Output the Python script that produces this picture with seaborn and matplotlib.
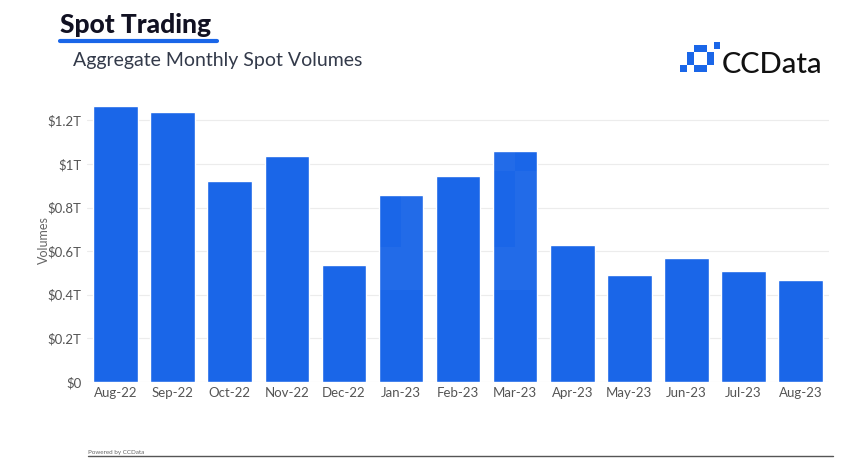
import numpy as np
import pandas as pd
import matplotlib
matplotlib.use("Agg")
import matplotlib.pyplot as plt
import seaborn as sns
from matplotlib.patches import Rectangle

# data (trillions of USD)
months = ["Aug-22", "Sep-22", "Oct-22", "Nov-22", "Dec-22", "Jan-23", "Feb-23",
          "Mar-23", "Apr-23", "May-23", "Jun-23", "Jul-23", "Aug-23"]
volumes = [1.264, 1.237, 0.921, 1.035, 0.536, 0.857, 0.944,
           1.058, 0.628, 0.490, 0.568, 0.508, 0.467]
tick_vals = [0, 0.2, 0.4, 0.6, 0.8, 1.0, 1.2]
tick_labels = ["$0", "$0.2T", "$0.4T", "$0.6T", "$0.8T", "$1T", "$1.2T"]

df = pd.DataFrame({"Month": months, "Volume": volumes})

sns.set_style("white")
plt.rcParams["font.family"] = ["Lato", "DejaVu Sans"]

BLUE = "#1a66e8"

fig = plt.figure(figsize=(8.63, 4.72), dpi=100)
ax = fig.add_axes([0.1008, 0.191, 0.86, 0.60])

sns.barplot(data=df, x="Month", y="Volume", color=BLUE, width=0.78,
            saturation=1, ax=ax, zorder=3)

ax.set_ylim(0, 1.3)
ax.set_xlim(-0.5, len(months) - 0.5)
ax.set_yticks(tick_vals)
ax.set_yticklabels(tick_labels)
ax.yaxis.grid(True, color="#ececec", linewidth=0.8, zorder=0)
ax.set_axisbelow(True)
for s in ax.spines.values():
    s.set_visible(False)
ax.tick_params(axis="both", length=0, labelsize=9.5, colors="#555555", pad=4)
ax.set_xlabel("")
ax.set_ylabel("Volumes", fontsize=9, color="#666666", labelpad=-2)

# faint watermark logo over the bars
for (x0, y0, w, h) in [(4.6, 0.42, 0.9, 0.2), (5.0, 0.62, 0.5, 0.35),
                       (5.5, 0.97, 1.5, 0.2), (6.4, 0.42, 1.0, 0.2),
                       (7.0, 0.62, 0.5, 0.35)]:
    ax.add_patch(Rectangle((x0, y0), w, h, color="white", alpha=0.04, zorder=4, lw=0))

# header
fig.text(0.069, 0.93, "Spot Trading", fontsize=19, fontweight="black", color="#111122")
fig.add_artist(plt.Line2D([0.07, 0.251], [0.914, 0.914], color=BLUE, linewidth=3))
fig.text(0.085, 0.86, "Aggregate Monthly Spot Volumes", fontsize=14, color="#333a4a")

# logo
lx, ly = 0.788, 0.848
sq = 0.0078
sqh = sq * 863 / 472
for (dx, dy) in [(0, 0), (2, 0), (3, 0), (1, 1), (1, 2), (4, 1), (4, 2),
                 (2, 3), (3, 3), (5, 3.4)]:
    fig.add_artist(Rectangle((lx + dx * sq, ly + dy * sqh), sq, sqh,
                             color=BLUE, lw=0))
fig.text(0.836, 0.846, "CCData", fontsize=21, color="#111111", fontweight="medium")

# footer
fig.text(0.102, 0.038, "Powered by CCData", fontsize=4.5, color="#666666")
fig.add_artist(plt.Line2D([0.102, 0.965], [0.033, 0.033], color="#555555", linewidth=1))

fig.savefig("out.png", dpi=100)
